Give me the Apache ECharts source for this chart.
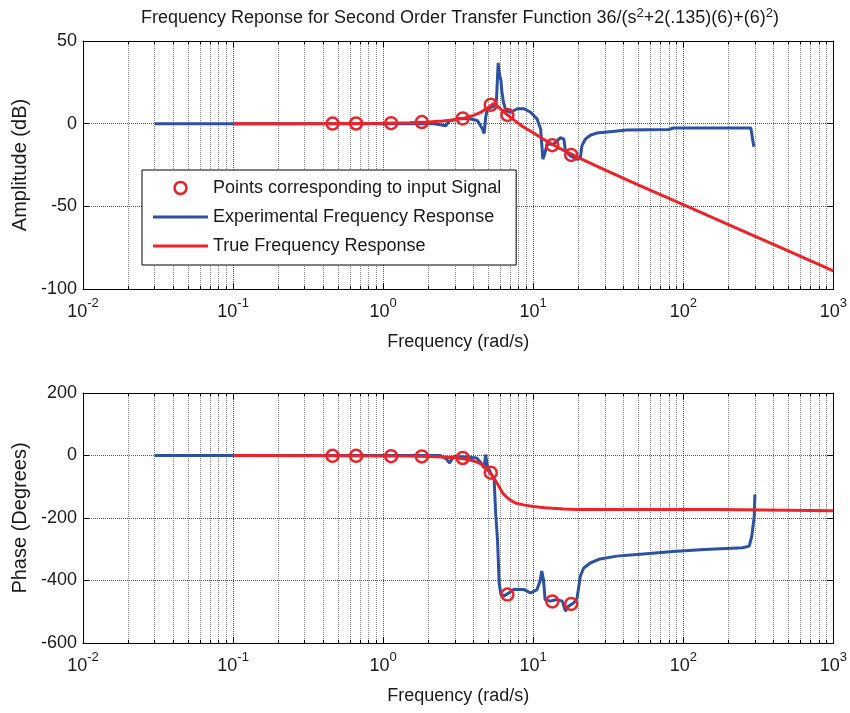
<!DOCTYPE html>
<html>
<head>
<meta charset="utf-8">
<script src="https://cdn.jsdelivr.net/npm/echarts@6/dist/echarts.min.js"></script>
<style>
  html, body { margin: 0; padding: 0; background: #fff; }
  #chart { width: 850px; height: 713px; }
</style>
</head>
<body>
<div id="chart"></div>
<script>
// ---- Experimental (measured) response ----
const expAmpFreq = [0.03, 1, 2.2, 2.62, 2.77, 3.2, 3.8, 4.26, 4.59, 4.71, 4.82, 4.95, 5.3, 5.62, 5.7, 5.84, 5.95, 6.1, 6.17, 6.33, 6.56, 7.08, 7.84, 8.68, 9.6, 10.6, 11.2, 11.6, 11.9, 12.4, 13.7, 15.2, 16.0, 16.4, 17.7, 19.5, 20.6, 21.1, 22.2, 24, 26.5, 32.5, 42, 80, 86, 282, 287, 295];
const expAmp = [0, 0, 0, -1.2, 1.8, 3, 3, 1.8, -3.2, -5.9, 3.8, 9, 10, 11, 16, 36.8, 30, 26, 20, 13, 8, 6.9, 9, 9, 6.9, 2.9, -3.2, -21.5, -18.5, -12.4, -12.4, -8.4, -9.4, -16.5, -19.5, -21.5, -21, -13.4, -9.4, -7, -5.7, -4.9, -3.9, -3.5, -2.6, -2.6, -3.5, -14];

const expPhaseFreq = [0.03, 1, 2.4, 2.62, 2.77, 2.95, 3.5, 4.2, 4.48, 4.71, 4.82, 4.95, 5.21, 5.49, 5.62, 5.78, 5.93, 6.09, 6.35, 6.86, 7.41, 8.7, 9.6, 10.6, 11.1, 11.4, 11.7, 12.0, 12.97, 14.4, 15.6, 16.4, 17.2, 18.6, 19.6, 20.6, 21.7, 24, 27.9, 36, 54, 85.5, 138, 248, 275, 286, 297, 300];
const expPhase = [0, 0, 0, -10, -24, -3, -5, -8, -23, -40, 3, -34, -56, -77, -184, -269, -408, -445, -450, -440, -429, -429, -440, -429, -402, -370, -397, -461, -466, -461, -466, -498, -482, -472, -456, -386, -360, -344, -331, -322, -315, -307, -301, -295, -290, -258, -194, -125];

// ---- True (theoretical) response ----
const trueAmpFreq = [0.1, 0.5, 1, 1.5, 2, 2.5, 3, 3.5, 4, 4.5, 5, 5.45, 5.8, 6.3, 6.8, 7.5, 8.5, 10, 12, 15, 20, 30, 50, 100, 200, 500, 1000];
const trueAmp = [0, 0.06, 0.25, 0.55, 1.0, 1.6, 2.4, 3.5, 5.0, 7.0, 9.6, 12.2, 10.5, 7.5, 5.0, 2.0, -1.7, -5.5, -10, -15, -20.5, -28, -37, -49, -61, -77, -89];

const truePhaseFreq = [0.1, 0.5, 1, 1.5, 2, 2.5, 3, 3.5, 4, 4.5, 5, 5.4, 5.8, 6.3, 6.9, 7.6, 8.6, 10, 12, 16, 20, 50, 100, 170, 175, 1000];
const truePhase = [-0.3, -1, -1.5, -2, -3, -4.5, -7, -11, -17, -27, -48, -68, -92, -122, -140, -152, -158, -163, -167, -171, -173, -173, -173, -173, -177, -177];

// ---- Input signal frequencies ----
const inputFreq = [0.46, 0.66, 1.13, 1.81, 3.39, 5.21, 6.73, 13.4, 17.9];
const inputAmp = [0.05, 0.1, 0.3, 1.0, 3.2, 11.4, 5.3, -13, -18.9];
const inputPhase = [-1, -1, -2, -3, -8, -55, -445, -467, -475];

// ---- Axis ranges ----
const freqRange = [0.01, 1000];
const ampRange = [-100, 50];
const phaseRange = [-600, 200];

const FONT = 'Liberation Sans, Arial, Helvetica, sans-serif';
const INK = '#1a1a1a';
const BLUE = '#2C50A2';
const RED = '#EC2329';
const NAME_PTS = 'Points corresponding to input Signal';
const NAME_EXP = 'Experimental Frequency Response';
const NAME_TRUE = 'True Frequency Response';

const zip = (xs, ys) => xs.map((x, i) => [x, ys[i]]);

// intermediate log grid values (2..9 x 10^k)
const minorVals = [];
for (let k = -2; k < 3; k++) {
  for (let m = 2; m <= 9; m++) minorVals.push(+(m * Math.pow(10, k)).toPrecision(3));
}

const supRich = {
  b: { fontSize: 18, fontFamily: FONT, color: INK, lineHeight: 18, verticalAlign: 'bottom' },
  s: { fontSize: 13, fontFamily: FONT, color: INK, lineHeight: 13, padding: [0, 0, 11, 0], verticalAlign: 'bottom' }
};

function logLabel(v) {
  const e = Math.round(Math.log10(v));
  return '{b|10}{s|' + e + '}';
}

const axisLineStyle = { show: true, onZero: false, lineStyle: { color: '#000', width: 1 } };
const tickStyle = { show: true, inside: true, length: 6, lineStyle: { color: '#000' } };
const gridLineStyle = { show: true, lineStyle: { color: '#555', type: [1, 1], width: 1 } };

function xAxisMain(gridIndex) {
  return {
    type: 'log', logBase: 10, gridIndex,
    min: freqRange[0], max: freqRange[1],
    name: 'Frequency (rad/s)', nameLocation: 'middle', nameGap: 44,
    nameTextStyle: { fontSize: 18, fontFamily: FONT, color: INK },
    axisLine: axisLineStyle,
    axisTick: tickStyle,
    axisLabel: { show: true, margin: 14, formatter: logLabel, rich: supRich, showMinLabel: true, showMaxLabel: true },
    splitLine: gridLineStyle,
    minorTick: { show: false }
  };
}
function xAxisTop(gridIndex) {
  return {
    type: 'log', logBase: 10, gridIndex, position: 'top',
    min: freqRange[0], max: freqRange[1],
    axisLine: axisLineStyle,
    axisTick: tickStyle,
    axisLabel: { show: false },
    splitLine: { show: false }
  };
}
function yAxisMain(gridIndex, range, interval, name) {
  return {
    type: 'value', gridIndex, min: range[0], max: range[1], interval,
    name, nameLocation: 'middle', nameGap: 51, nameRotate: 90,
    nameTextStyle: { fontSize: 20, fontFamily: FONT, color: INK },
    axisLine: axisLineStyle,
    axisTick: tickStyle,
    axisLabel: { show: true, margin: 6, fontSize: 18, fontFamily: FONT, color: INK, showMinLabel: true, showMaxLabel: true },
    splitLine: gridLineStyle
  };
}
function yAxisRight(gridIndex, range, interval) {
  return {
    type: 'value', gridIndex, position: 'right', min: range[0], max: range[1], interval,
    axisLine: axisLineStyle,
    axisTick: tickStyle,
    axisLabel: { show: false },
    splitLine: { show: false }
  };
}

// light vertical grid lines plus small edge ticks at the intermediate frequencies
function minorGridSeries(xi, yi, range, tickLen) {
  const lines = minorVals.map(v => ({ xAxis: v }));
  const ticks = [];
  minorVals.forEach(v => {
    ticks.push([{ coord: [v, range[1]] }, { coord: [v, range[1] - tickLen] }]);
    ticks.push([{ coord: [v, range[0]] }, { coord: [v, range[0] + tickLen] }]);
  });
  return [{
    type: 'line', xAxisIndex: xi, yAxisIndex: yi, data: [], silent: true, z: 1,
    markLine: {
      silent: true, symbol: 'none', animation: false, z: 1,
      label: { show: false },
      lineStyle: { color: '#8a8a8a', type: [1, 1], width: 1 },
      data: lines
    }
  }, {
    type: 'line', xAxisIndex: xi, yAxisIndex: yi, data: [], silent: true, z: 1,
    markLine: {
      silent: true, symbol: 'none', animation: false, z: 1,
      label: { show: false },
      lineStyle: { color: '#000', type: 'solid', width: 1 },
      data: ticks
    }
  }];
}

function lineSeries(name, xi, yi, data, color) {
  return {
    name, type: 'line', xAxisIndex: xi, yAxisIndex: yi, data,
    symbol: 'none', smooth: false, z: 3, animation: false,
    lineStyle: { color, width: 3 }, itemStyle: { color }
  };
}
function pointSeries(xi, yi, data) {
  return {
    name: NAME_PTS, type: 'scatter', xAxisIndex: xi, yAxisIndex: yi, data,
    symbol: 'circle', symbolSize: 12, z: 4, animation: false,
    itemStyle: { color: 'rgba(0,0,0,0)', borderColor: RED, borderWidth: 2.5, opacity: 1 }
  };
}

const lineIcon = 'path://M0,0H55V3H0Z';

const option = {
  backgroundColor: '#fff',
  animation: false,
  textStyle: { fontFamily: FONT },
  grid: [
    { left: 83, right: 12, top: 41, height: 248 },
    { left: 83, right: 12, top: 393, height: 250 }
  ],
  xAxis: [xAxisMain(0), xAxisMain(1), xAxisTop(0), xAxisTop(1)],
  yAxis: [
    yAxisMain(0, ampRange, 50, 'Amplitude (dB)'),
    yAxisMain(1, phaseRange, 200, 'Phase (Degrees)'),
    yAxisRight(0, ampRange, 50),
    yAxisRight(1, phaseRange, 200)
  ],
  legend: {
    left: 142, top: 170, orient: 'vertical',
    data: [
      { name: NAME_PTS, icon: 'circle', itemStyle: { color: 'rgba(0,0,0,0)', borderColor: RED, borderWidth: 2.5 } },
      { name: NAME_EXP, icon: lineIcon, itemStyle: { color: BLUE } },
      { name: NAME_TRUE, icon: lineIcon, itemStyle: { color: RED } }
    ],
    backgroundColor: '#fff', borderColor: '#000', borderWidth: 1,
    padding: [9, 15, 10, 11], itemGap: 11, itemWidth: 55, itemHeight: 12,
    textStyle: { fontSize: 18, fontFamily: FONT, color: INK }
  },
  graphic: [{
    type: 'text', x: 460, y: 18, z: 10,
    style: {
      text: 'Frequency Reponse for Second Order Transfer Function 36/(s{s|2}+2(.135)(6)+(6){s|2})',
      align: 'center', verticalAlign: 'middle',
      fontSize: 18, fontFamily: FONT, fill: INK,
      rich: {
        s: { fontSize: 13, fontFamily: FONT, fill: INK, padding: [0, 0, 9, 0], verticalAlign: 'bottom' }
      }
    }
  }],
  series: [
    ...minorGridSeries(0, 0, ampRange, 2),
    ...minorGridSeries(1, 1, phaseRange, 10),
    lineSeries(NAME_EXP, 0, 0, zip(expAmpFreq, expAmp), BLUE),
    lineSeries(NAME_TRUE, 0, 0, zip(trueAmpFreq, trueAmp), RED),
    pointSeries(0, 0, zip(inputFreq, inputAmp)),
    lineSeries(NAME_EXP, 1, 1, zip(expPhaseFreq, expPhase), BLUE),
    lineSeries(NAME_TRUE, 1, 1, zip(truePhaseFreq, truePhase), RED),
    pointSeries(1, 1, zip(inputFreq, inputPhase))
  ]
};

const chart = echarts.init(document.getElementById('chart'), null, { renderer: 'canvas' });
chart.setOption(option);
</script>
</body>
</html>
